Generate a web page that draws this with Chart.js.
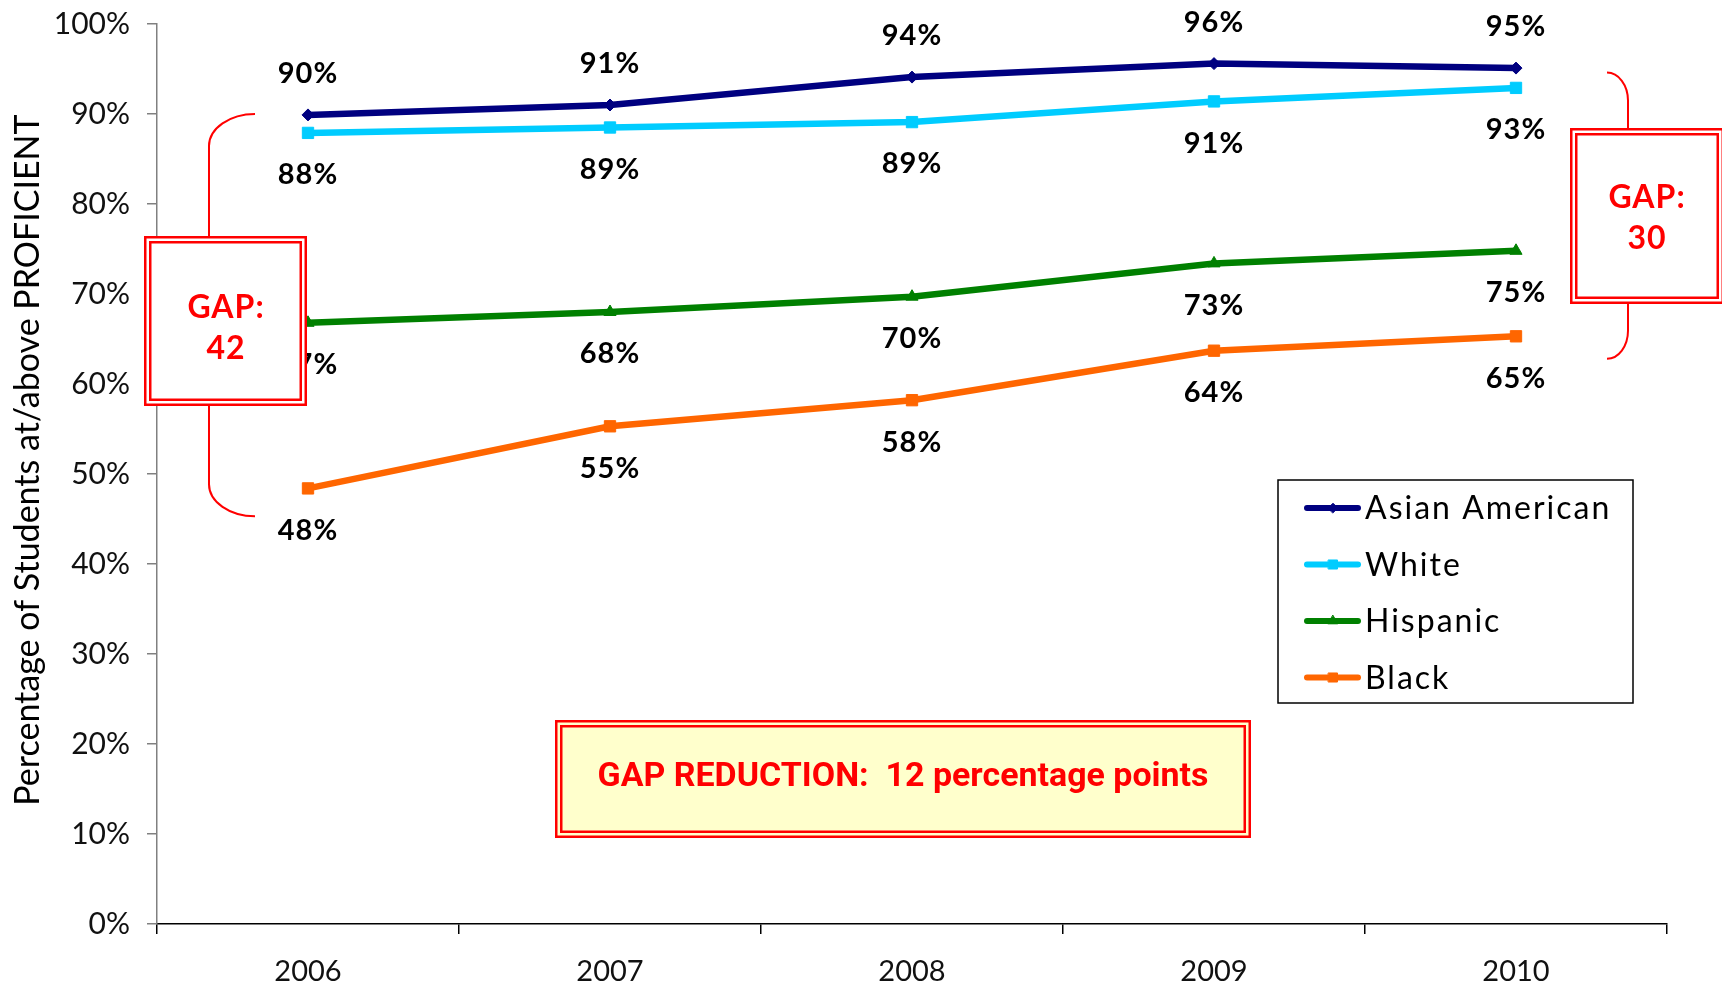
<!DOCTYPE html>
<html>
<head>
<meta charset="utf-8">
<script src="https://cdn.jsdelivr.net/npm/chart.js@4.4.1/dist/chart.umd.min.js"></script>
<style>
html, body { margin: 0; padding: 0; background: #fff; }
#wrap { width: 1722px; height: 990px; }
</style>
</head>
<body>
<div id="wrap"><canvas id="gapChart" width="1722" height="990"></canvas></div>
<script>
// values (percent proficient)
const years = ["2006", "2007", "2008", "2009", "2010"];
const asianAmerican = [89.9, 91.0, 94.1, 95.6, 95.1];
const white = [87.9, 88.5, 89.1, 91.4, 92.9];
const hispanic = [66.8, 68.0, 69.7, 73.4, 74.8];
const black = [48.4, 55.3, 58.2, 63.7, 65.3];
const seriesNames = ["Asian American", "White", "Hispanic", "Black"];
const seriesColors = ["#000080", "#00CCFF", "#008000", "#FF6600"];
const seriesMarkers = ["rectRot", "rect", "triangle", "rect"];
const markerSizes = [6, 8, 7, 8];
const yMin = 0, yMax = 100, yStep = 10;
const yTitle = "Percentage of Students at/above PROFICIENT";
const gapStart = "GAP:\n42", gapEnd = "GAP:\n30";
const gapNote = "GAP REDUCTION:  12 percentage points";

const RED = "#FF0000";
const FONT = "Lato, 'Open Sans', sans-serif";

function brace(ctx, xTip, xLine, yTop, yBot, ry) {
    const k = 0.55;
    ctx.beginPath();
    ctx.moveTo(xTip, yTop);
    ctx.bezierCurveTo(xTip + (xLine - xTip) * k, yTop, xLine, yTop + ry * (1 - k), xLine, yTop + ry);
    ctx.lineTo(xLine, yBot - ry);
    ctx.bezierCurveTo(xLine, yBot - ry * (1 - k), xTip + (xLine - xTip) * k, yBot, xTip, yBot);
    ctx.stroke();
}

function doubleBox(ctx, x0, y0, x1, y1, fill) {
    ctx.fillStyle = fill;
    ctx.fillRect(x0, y0, x1 - x0, y1 - y0);
    ctx.strokeStyle = RED;
    ctx.lineWidth = 2.5;
    ctx.strokeRect(x0 + 1.25, y0 + 1.25, x1 - x0 - 2.5, y1 - y0 - 2.5);
    ctx.strokeRect(x0 + 6.25, y0 + 6.25, x1 - x0 - 12.5, y1 - y0 - 12.5);
}

function boxText(ctx, text, cx, cy, lineGap) {
    const lines = text.split("\n");
    ctx.fillStyle = RED;
    ctx.font = "bold 32px " + FONT;
    ctx.letterSpacing = "1px";
    ctx.textAlign = "center";
    ctx.textBaseline = "middle";
    lines.forEach((l, i) => ctx.fillText(l, cx, cy + (i - (lines.length - 1) / 2) * lineGap));
    ctx.letterSpacing = "0px";
}

const overlay = {
    id: "overlay",
    afterDatasetsDraw(chart) {
        const ctx = chart.ctx;
        const y = chart.scales.y;
        ctx.save();

        // y axis title
        ctx.save();
        ctx.translate(28, 460);
        ctx.rotate(-Math.PI / 2);
        ctx.font = "34px " + FONT;
        ctx.fillStyle = "#000";
        ctx.textAlign = "center";
        ctx.textBaseline = "middle";
        ctx.fillText(yTitle, 0, 0);
        ctx.restore();

        // value labels: first series above the point, others below
        ctx.font = "bold 29px " + FONT;
        ctx.letterSpacing = "1px";
        ctx.fillStyle = "#000";
        ctx.textAlign = "center";
        ctx.textBaseline = "middle";
        chart.data.datasets.forEach((ds, i) => {
            chart.getDatasetMeta(i).data.forEach((pt, j) => {
                const off = i === 0 ? -41 : 42;
                ctx.fillText(Math.round(ds.data[j]) + "%", pt.x, pt.y + off);
            });
        });
        ctx.letterSpacing = "0px";

        // braces
        ctx.strokeStyle = RED;
        ctx.lineWidth = 2;
        brace(ctx, 255, 209, y.getPixelForValue(90), y.getPixelForValue(45.3), 32);
        brace(ctx, 1607, 1628, y.getPixelForValue(94.6), y.getPixelForValue(62.8), 28);

        // gap boxes
        doubleBox(ctx, 144, 236, 307, 406, "#FFFFFF");
        boxText(ctx, gapStart, 226, 328, 41);
        doubleBox(ctx, 1570, 128, 1724, 304, "#FFFFFF");
        boxText(ctx, gapEnd, 1647, 218, 41);

        doubleBox(ctx, 555, 720, 1251, 838, "#FFFFCC");
        ctx.font = "bold 34px Roboto, " + FONT;
        const w = ctx.measureText(gapNote).width;
        ctx.save();
        ctx.translate(903, 777);
        ctx.scale(611 / w, 1);
        ctx.fillStyle = RED;
        ctx.fillText(gapNote, 0, 0);
        ctx.restore();

        // legend
        ctx.fillStyle = "#fff";
        ctx.fillRect(1278, 480, 355, 223);
        ctx.strokeStyle = "#000";
        ctx.lineWidth = 1.5;
        ctx.strokeRect(1278, 480, 355, 223);
        ctx.font = "32px " + FONT;
        ctx.letterSpacing = "2px";
        ctx.textAlign = "left";
        chart.data.datasets.forEach((ds, i) => {
            const ly = 508 + i * 56.5;
            ctx.strokeStyle = ds.borderColor;
            ctx.fillStyle = ds.borderColor;
            ctx.lineWidth = 6;
            ctx.lineCap = "round";
            ctx.beginPath();
            ctx.moveTo(1307, ly);
            ctx.lineTo(1358, ly);
            ctx.stroke();
            ctx.lineWidth = 1;
            Chart.helpers.drawPoint(ctx, {pointStyle: ds.pointStyle, radius: ds.pointRadius * 0.8, borderWidth: 1}, 1333, ly);
            ctx.fillStyle = "#000";
            ctx.fillText(ds.label, 1365, ly + 1);
        });
        ctx.restore();
    }
};

const seriesData = [asianAmerican, white, hispanic, black];

new Chart(document.getElementById("gapChart"), {
    type: "line",
    data: {
        labels: years,
        datasets: seriesData.map((d, i) => ({
            label: seriesNames[i],
            data: d,
            borderColor: seriesColors[i],
            backgroundColor: seriesColors[i],
            pointBackgroundColor: seriesColors[i],
            pointBorderColor: seriesColors[i],
            pointStyle: seriesMarkers[i],
            pointRadius: markerSizes[i],
            pointBorderWidth: 1,
            borderWidth: 6.5,
            tension: 0,
            fill: false
        }))
    },
    options: {
        responsive: false,
        devicePixelRatio: 1,
        animation: false,
        layout: { padding: { left: 0, right: 55, top: 24, bottom: 0 } },
        plugins: {
            legend: { display: false },
            tooltip: { enabled: false }
        },
        scales: {
            x: {
                offset: true,
                grid: { offset: true, drawOnChartArea: false, tickLength: 10, color: "#000", lineWidth: 1.5 },
                border: { color: "#000", width: 1.5 },
                ticks: { font: { family: FONT, size: 29 }, color: "#111", padding: 20 },
                afterFit: s => { s.height = 66; }
            },
            y: {
                min: yMin,
                max: yMax,
                grid: { drawOnChartArea: false, tickLength: 10, color: "#808080", lineWidth: 1.5 },
                border: { color: "#808080", width: 1.5 },
                ticks: {
                    stepSize: yStep,
                    font: { family: FONT, size: 30 },
                    color: "#111",
                    padding: 17,
                    callback: v => v + "%"
                },
                afterFit: s => {
                    s.width = 157;
                    s.paddingTop = 0;
                    s.paddingBottom = 0;
                }
            }
        }
    },
    plugins: [overlay]
});
</script>
</body>
</html>
